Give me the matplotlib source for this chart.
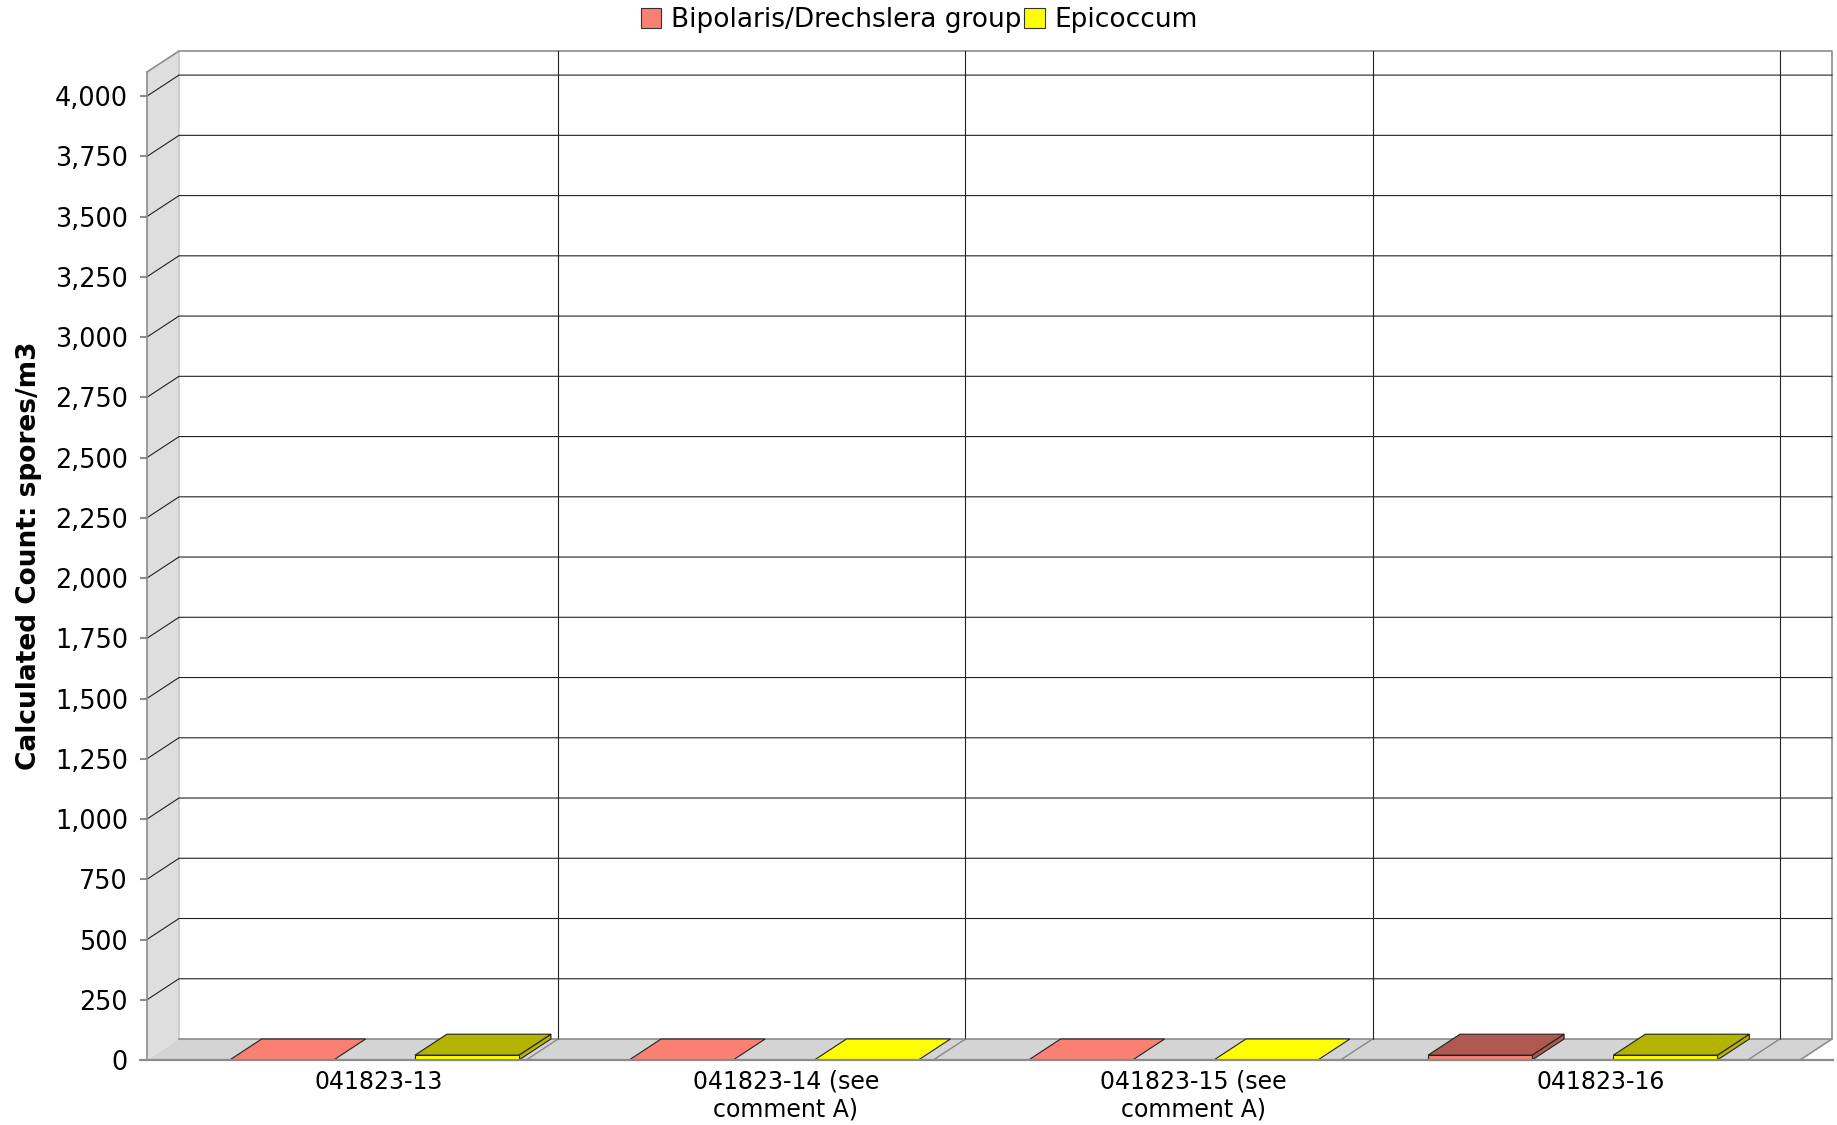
import matplotlib
matplotlib.use('Agg')
import matplotlib.pyplot as plt
from matplotlib.patches import Polygon, Rectangle, Patch

plt.rcParams['font.family'] = ['DejaVu Sans']

# data
samples = ['041823-13', '041823-14 (see\ncomment A)', '041823-15 (see\ncomment A)', '041823-16']
series = ['Bipolaris/Drechslera group', 'Epicoccum']
bipolaris = [0, 0, 0, 20]
epicoccum = [20, 0, 0, 20]
yticks = list(range(0, 4001, 250))

colors = ['#fa8072', '#ffff00']
dark = ['#af5950', '#b3b300']

YMAX = 4100
fig_w, fig_h = 1837, 1125
fig = plt.figure(figsize=(fig_w / 100, fig_h / 100), dpi=100)

# front face of the plot box in pixels
px_l, px_b, px_w, px_h = 147, 1060, 1653, 988
ax = fig.add_axes([px_l / fig_w, 1 - px_b / fig_h, px_w / fig_w, px_h / fig_h])
ax.set_xlim(0, 1)
ax.set_ylim(0, YMAX)
ax.patch.set_visible(False)
for s in ['top', 'right', 'bottom']:
    ax.spines[s].set_visible(False)
ax.spines['left'].set_color('#8c8c8c')
ax.spines['left'].set_linewidth(1.2)

# depth offset of the 3D box in data units
DX = 32 / px_w
DY = 21 * YMAX / px_h
edge = '#8c8c8c'

# back wall, left wall, floor
ax.add_patch(Rectangle((DX, DY), 1, YMAX, fc='white', ec='none', zorder=0, clip_on=False))
ax.add_patch(Polygon([(0, 0), (DX, DY), (DX, YMAX + DY), (0, YMAX)], closed=True,
                     fc='#dedede', ec='none', zorder=1, clip_on=False))
ax.add_patch(Polygon([(0, 0), (1, 0), (1 + DX, DY), (DX, DY)], closed=True,
                     fc='#d4d4d4', ec='none', zorder=1, clip_on=False))
ax.plot([DX, DX], [DY, YMAX + DY], color='#c8c8c8', lw=1.2, zorder=1.5, clip_on=False)
ax.plot([0, DX, 1 + DX, 1 + DX, 1], [YMAX, YMAX + DY, YMAX + DY, DY, 0],
        color=edge, lw=1.2, zorder=1.5, clip_on=False)
ax.plot([DX, 1 + DX], [DY, DY], color=edge, lw=1.2, zorder=1.5, clip_on=False)

# value gridlines on the back wall, running down the left wall
for v in yticks[1:]:
    ax.plot([0, DX, 1 + DX], [v, v + DY, v + DY], color='#222222', lw=0.8,
            zorder=2, clip_on=False)

# category layout (margins 5%, category gap 20%)
n = len(samples)
lower, cat_gap = 0.05, 0.20
cat_w = (1 - 2 * lower - cat_gap) / n
step = cat_w + cat_gap / (n - 1)
bar_w = 104 / px_w
item_gap = cat_w - 2 * bar_w
full_scale = (px_w + 32) / px_w

# category gridlines on the back wall and across the floor
for i in range(n):
    g = (lower + cat_w + i * step) * full_scale
    ax.plot([g + DX, g + DX], [DY, YMAX + DY], color='#222222', lw=0.8, zorder=2, clip_on=False)
    ax.plot([g + DX, g], [DY, 0], color='#888888', lw=1.0, zorder=2, clip_on=False)

# bars
for s, vals in enumerate([bipolaris, epicoccum]):
    for i, v in enumerate(vals):
        x0 = lower + i * step + s * (bar_w + item_gap)
        x1 = x0 + bar_w
        top = [(x0, v), (x1, v), (x1 + DX, v + DY), (x0 + DX, v + DY)]
        if v == 0:
            ax.add_patch(Polygon(top, closed=True, fc=colors[s], ec='#222222', lw=0.8,
                                 zorder=3, clip_on=False))
            continue
        ax.add_patch(Polygon([(x1, 0), (x1 + DX, DY), (x1 + DX, v + DY), (x1, v)], closed=True,
                             fc=dark[s], ec='#222222', lw=0.8, zorder=3, clip_on=False))
        ax.add_patch(Polygon(top, closed=True, fc=dark[s], ec='#222222', lw=0.8,
                             zorder=3, clip_on=False))
        ax.add_patch(Rectangle((x0, 0), bar_w, v, fc=colors[s], ec='#222222', lw=0.8,
                               zorder=3.5, clip_on=False))

# base axis line
ax.plot([-7 / px_w, (1833 - px_l) / px_w], [0, 0], color='#8c8c8c', lw=1.6, zorder=4,
        clip_on=False)

ax.set_yticks(yticks)
ax.set_yticklabels([f'{v:,}' for v in yticks])
ax.tick_params(axis='y', length=5, width=1.5, color='#8c8c8c', pad=8.6, labelsize=18.4)
ax.set_xticks([(lower + cat_w / 2 + i * step) * full_scale for i in range(n)])
ax.set_xticklabels(samples, fontsize=17, linespacing=1.2)
ax.tick_params(axis='x', length=0, pad=7)

fig.text(29 / fig_w, 1 - 556 / fig_h, 'Calculated Count: spores/m3', rotation=90,
         ha='center', va='center', fontsize=19, fontweight='bold')

handles = [Patch(fc=c, ec='#333333', lw=0.8) for c in colors]
fig.legend(handles, series, ncol=2, loc='center', bbox_to_anchor=(919 / fig_w, 1 - 20 / fig_h),
           frameon=False, prop={'size': 19},
           handlelength=0.78, handleheight=0.78, handletextpad=0.36, columnspacing=0.11,
           borderpad=0)

fig.savefig('out.png', dpi=100)
